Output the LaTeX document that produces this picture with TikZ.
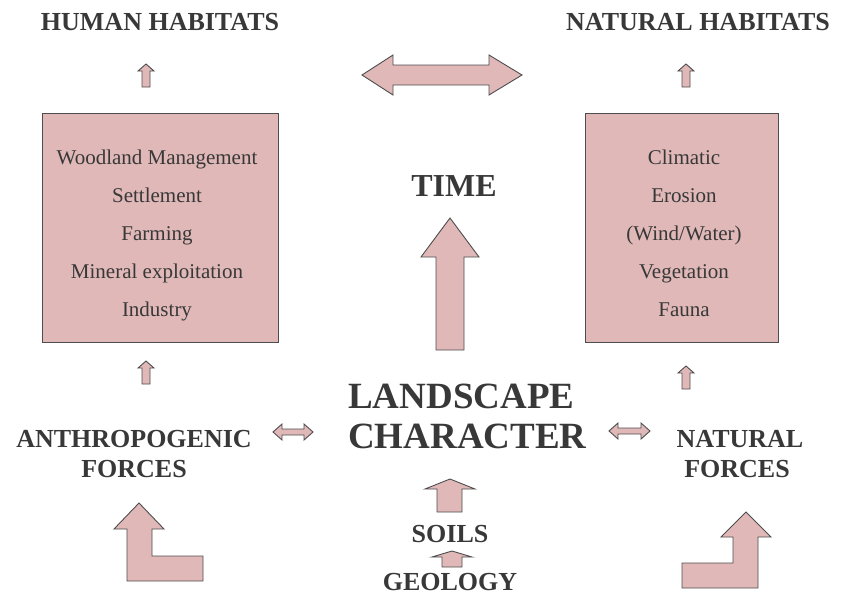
\documentclass[tikz,border=0pt]{standalone}
\usepackage{fontspec}
\setmainfont{Liberation Serif}

\definecolor{rose}{HTML}{E0B8B8}
\definecolor{ink}{HTML}{383838}
\definecolor{edge}{HTML}{4D4D4D}

\tikzset{
  blockarrow/.style={fill=rose, draw=edge, line width=0.9pt, line join=miter},
  panel/.style={fill=rose, draw=edge, line width=0.9pt, inner sep=0pt, minimum height=229pt},
  title/.style={text=ink, font=\bfseries\fontsize{26}{30}\selectfont, inner sep=0pt, anchor=base},
  item/.style={text=ink, font=\fontsize{21}{25}\selectfont, inner sep=0pt, anchor=base}
}

\begin{document}
\begin{tikzpicture}[x=1pt, y={(0pt,-1pt)}]
\useasboundingbox (0,0) rectangle (841,595);

%% habitats
\node[title] (hh) at (160,30) {HUMAN HABITATS};
\node[title] (nh) at (698,30) {NATURAL HABITATS};

%% boxes
\node[panel, minimum width=236pt] (humanbox) at (160,227.5) {};
\node[panel, minimum width=193pt] (naturebox) at (681.5,227.5) {};

%% human box items
\node[item] (wood) at (157,164) {Woodland Management};
\node[item] (settle) at (157,202) {Settlement};
\node[item] (farm) at (157,240) {Farming};
\node[item] (mineral) at (157,278) {Mineral exploitation};
\node[item] (industry) at (157,316) {Industry};

%% natural box items
\node[item] (climatic) at (684,164) {Climatic};
\node[item] (erosion) at (684,202) {Erosion};
\node[item] (windwater) at (684,240) {(Wind/Water)};
\node[item] (veg) at (684,278) {Vegetation};
\node[item] (fauna) at (684,316) {Fauna};

%% centre column
\node[title, font=\bfseries\fontsize{32}{36}\selectfont] (time) at (454,196) {TIME};
\node[title, anchor=base west, font=\bfseries\fontsize{37}{40}\selectfont] (landscape) at (348,408) {LANDSCAPE};
\node[title, anchor=base west, font=\bfseries\fontsize{37}{40}\selectfont] (character) at (348,448) {CHARACTER};
\node[title] (soils) at (450,542) {SOILS};
\node[title] (geology) at (450,590) {GEOLOGY};

%% forces
\node[title] (anthro) at (134,447) {ANTHROPOGENIC};
\node[title] (aforces) at (134,477) {FORCES};
\node[title] (natural) at (740,447) {NATURAL};
\node[title] (nforces) at (737,477) {FORCES};

%%% arrows
\draw[blockarrow] (362,75) -- (393,55) -- (393,65) -- (489,65) -- (489,55) -- (522,75)
  -- (489,95) -- (489,85) -- (393,85) -- (393,95) -- cycle;                               %% time span
\draw[blockarrow] (450,218) -- (479,257) -- (464,257) -- (464,350) -- (436,350)
  -- (436,257) -- (421,257) -- cycle;                                                      %% time
\draw[blockarrow] (146,64) -- (154,71) -- (150,71) -- (150,87) -- (142,87) -- (142,71) -- (138,71) -- cycle;      %% to human habitats
\draw[blockarrow] (686,64) -- (694,71) -- (690,71) -- (690,87) -- (682,87) -- (682,71) -- (678,71) -- cycle;      %% to natural habitats
\draw[blockarrow] (146,361) -- (154,368) -- (150,368) -- (150,384) -- (142,384) -- (142,368) -- (138,368) -- cycle; %% into human box
\draw[blockarrow] (686,366) -- (694,373) -- (690,373) -- (690,389) -- (682,389) -- (682,373) -- (678,373) -- cycle; %% into natural box
\draw[blockarrow] (273,432) -- (282,424) -- (282,429) -- (304,429) -- (304,424) -- (313,432)
  -- (304,440) -- (304,435) -- (282,435) -- (282,440) -- cycle;                            %% anthro - landscape
\draw[blockarrow] (609,431) -- (618,423) -- (618,428) -- (641,428) -- (641,423) -- (650,431)
  -- (641,439) -- (641,434) -- (618,434) -- (618,439) -- cycle;                            %% landscape - natural
\draw[blockarrow] (450,479) -- (475,489) -- (462,489) -- (462,512) -- (437,512) -- (437,489) -- (425,489) -- cycle; %% soils
\draw[blockarrow] (452,551) -- (472,557) -- (462,557) -- (462,567) -- (442,567) -- (442,557) -- (432,557) -- cycle; %% geology
\draw[blockarrow] (139,503) -- (164,529) -- (152,529) -- (152,556) -- (203,556) -- (203,581)
  -- (127,581) -- (127,529) -- (114,529) -- cycle;                                         %% bent left
\draw[blockarrow] (746,512) -- (771,537) -- (758,537) -- (758,588) -- (682,588) -- (682,563)
  -- (733,563) -- (733,537) -- (721,537) -- cycle;                                         %% bent right
\end{tikzpicture}
\end{document}
